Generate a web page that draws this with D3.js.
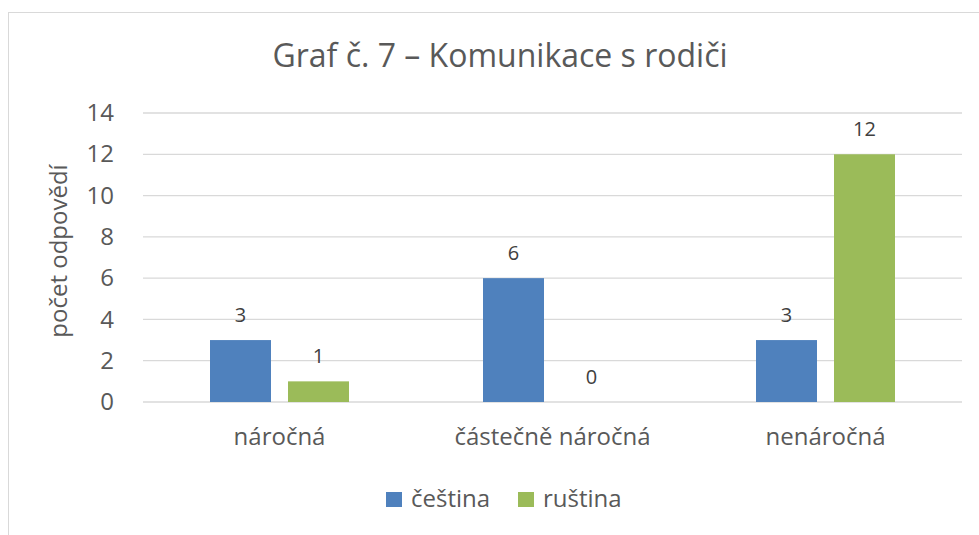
<!DOCTYPE html>
<html>
<head>
<meta charset="utf-8">
<script src="https://cdn.jsdelivr.net/npm/d3@7"></script>
<style>
    body { margin: 0; background: #fff; }
    svg { display: block; font-family: "Open Sans", sans-serif; }
</style>
</head>
<body>
<svg id="chart" width="979" height="535"></svg>
<script>
// kategorie a hodnoty
const categories = ["náročná", "částečně náročná", "nenáročná"];
const seriesNames = ["čeština", "ruština"];
const cestina = [3, 6, 3];
const rustina = [1, 0, 12];
const yTicks = [0, 2, 4, 6, 8, 10, 12, 14];
const colors = ["#4f81bd", "#9bbb59"];

const rows = categories.map((c, i) => ({cat: c, vals: [cestina[i], rustina[i]]}));

const svg = d3.select("#chart");

// ramecek grafu
svg.append("rect")
    .attr("x", 8.5).attr("y", 12.5)
    .attr("width", 1000).attr("height", 600)
    .attr("fill", "none").attr("stroke", "#d9d9d9").attr("stroke-width", 1);

// skalovani
const x = d3.scaleBand().domain(categories).range([143, 962]);
const groupW = 139;
const x1 = d3.scaleBand().domain(seriesNames).range([0, groupW]).paddingInner(0.218);
const y = d3.scaleLinear().domain([0, 14]).range([402, 113]);

// mrizka
svg.append("g")
    .selectAll("line")
    .data(yTicks)
    .join("line")
    .attr("x1", 143).attr("x2", 962)
    .attr("y1", d => y(d)).attr("y2", d => y(d))
    .attr("stroke", "#d9d9d9").attr("stroke-width", 1.3);

// osa y
const yAxis = svg.append("g")
    .attr("transform", "translate(114,0)")
    .call(d3.axisLeft(y).tickValues(yTicks).tickSize(0).tickPadding(0));
yAxis.select(".domain").remove();
yAxis.selectAll("text")
    .attr("fill", "#595959")
    .style("font-size", "24px")
    .style("font-family", "'Open Sans', sans-serif");

// osa x
const xAxis = svg.append("g")
    .attr("transform", "translate(0,402)")
    .call(d3.axisBottom(x).tickSize(0).tickPadding(26));
xAxis.select(".domain").remove();
xAxis.selectAll("text")
    .attr("fill", "#595959")
    .style("font-size", "24px")
    .style("font-family", "'Open Sans', sans-serif");

// sloupce
const groups = svg.append("g")
    .selectAll("g")
    .data(rows)
    .join("g")
    .attr("transform", d => `translate(${x(d.cat) + (x.bandwidth() - groupW) / 2},0)`);

groups.selectAll("rect")
    .data(d => d.vals.map((v, i) => ({s: seriesNames[i], v: v, i: i})))
    .join("rect")
    .attr("x", d => x1(d.s))
    .attr("y", d => y(d.v))
    .attr("width", x1.bandwidth())
    .attr("height", d => y(0) - y(d.v))
    .attr("fill", d => colors[d.i]);

// popisky hodnot
groups.selectAll("text")
    .data(d => d.vals.map((v, i) => ({s: seriesNames[i], v: v})))
    .join("text")
    .attr("x", d => x1(d.s) + x1.bandwidth() / 2)
    .attr("y", d => y(d.v) - 18)
    .attr("text-anchor", "middle")
    .attr("fill", "#404040")
    .style("font-size", "20px")
    .text(d => d.v);

// nadpis
svg.append("text")
    .attr("x", 500).attr("y", 67)
    .attr("text-anchor", "middle")
    .attr("fill", "#595959")
    .style("font-size", "32px")
    .text("Graf č. 7 – Komunikace s rodiči");

// popis osy y
svg.append("text")
    .attr("transform", "translate(67,251) rotate(-90)")
    .attr("text-anchor", "middle")
    .attr("fill", "#595959")
    .style("font-size", "24px")
    .text("počet odpovědí");

// legenda
const legendX = [386, 518];
const legend = svg.append("g")
    .selectAll("g")
    .data(seriesNames)
    .join("g")
    .attr("transform", (d, i) => `translate(${legendX[i]},492)`);
legend.append("rect")
    .attr("width", 16).attr("height", 15)
    .attr("fill", (d, i) => colors[i]);
legend.append("text")
    .attr("x", 25).attr("y", 15)
    .attr("fill", "#595959")
    .style("font-size", "24px")
    .text(d => d);
</script>
</body>
</html>
